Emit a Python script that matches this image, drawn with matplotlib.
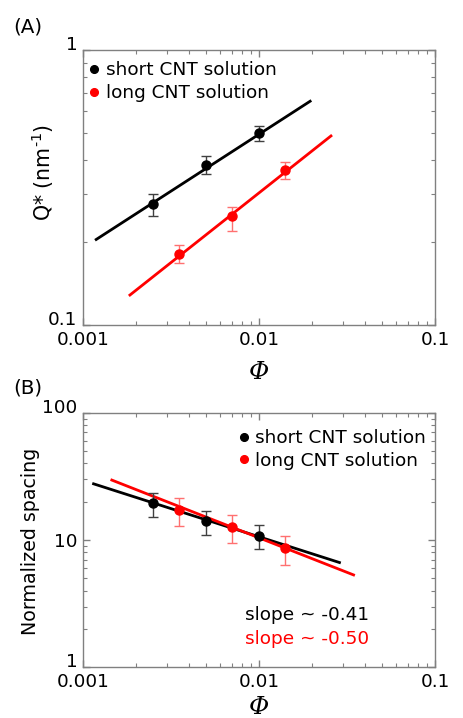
import numpy as np
import matplotlib
matplotlib.use("Agg")
import matplotlib.pyplot as plt
from matplotlib.ticker import FixedLocator, FuncFormatter, LogLocator, NullFormatter

# volume fraction
phi_short = [0.0025, 0.005, 0.01]
phi_long = [0.0035, 0.007, 0.014]

# (A) peak position Q* (nm^-1)
q_short = [0.276, 0.384, 0.50]
q_short_lo = [0.249, 0.356, 0.469]
q_short_hi = [0.299, 0.411, 0.529]
q_long = [0.182, 0.249, 0.368]
q_long_lo = [0.168, 0.221, 0.339]
q_long_hi = [0.195, 0.270, 0.392]

# (B) normalized spacing
s_short = [19.4, 14.0, 10.8]
s_short_lo = [15.1, 11.0, 8.5]
s_short_hi = [23.3, 17.0, 13.1]
s_long = [17.2, 12.7, 8.6]
s_long_lo = [12.9, 9.5, 6.4]
s_long_hi = [21.5, 15.8, 10.7]

# power law fits: value at phi=0.01, exponent, phi range
fitA_short = (0.495, 0.414, 0.00119, 0.0195)
fitA_long = (0.303, 0.507, 0.00185, 0.0256)
fitB_short = (10.6, -0.443, 0.00115, 0.0286)
fitB_long = (10.4, -0.543, 0.00146, 0.0344)

plt.rcParams["font.family"] = "DejaVu Sans"
FS = 13.3
ERR_BLACK = "#404040"
ERR_RED = "#ff7070"


def fit_line(ax, fit, color):
    amp, expo, x0, x1 = fit
    xs = np.array([x0, x1])
    ax.plot(xs, amp * (xs / 0.01) ** expo, color=color, lw=2.0, zorder=2)


def points(ax, x, y, lo, hi, color, ecolor, label):
    y = np.array(y)
    err = [y - np.array(lo), np.array(hi) - y]
    ax.errorbar(x, y, yerr=err, fmt="none", ecolor=ecolor, elinewidth=1.0,
                capsize=3.5, capthick=1.0, zorder=3)
    ax.plot(x, y, "o", color=color, ms=6.5, zorder=4, label=label)


def style(ax, ylim, yticks, xpad):
    ax.set_xscale("log")
    ax.set_yscale("log")
    ax.set_xlim(0.001, 0.1)
    ax.set_ylim(*ylim)
    for s in ax.spines.values():
        s.set_color("#808080")
        s.set_linewidth(1.0)
    ax.xaxis.set_major_locator(FixedLocator([0.001, 0.01, 0.1]))
    ax.xaxis.set_major_formatter(FuncFormatter(lambda v, p: f"{v:g}"))
    ax.yaxis.set_major_locator(FixedLocator(yticks))
    ax.yaxis.set_major_formatter(FuncFormatter(lambda v, p: f"{v:g}"))
    ax.xaxis.set_minor_locator(LogLocator(base=10, subs=np.arange(2, 10)))
    ax.yaxis.set_minor_locator(LogLocator(base=10, subs=np.arange(2, 10)))
    ax.xaxis.set_minor_formatter(NullFormatter())
    ax.yaxis.set_minor_formatter(NullFormatter())
    ax.tick_params(which="both", direction="in", top=True, right=True,
                   color="#808080", labelsize=FS, pad=4)
    ax.tick_params(which="major", length=5, width=1.0)
    ax.tick_params(which="minor", length=3, width=0.8)
    ax.set_xlabel("Φ", fontsize=FS + 4.5, family="DejaVu Serif", style="italic", labelpad=xpad)


fig = plt.figure(figsize=(4.63, 7.18), dpi=100)
axA = fig.add_axes([0.179, 0.547, 0.761, 0.383])
axB = fig.add_axes([0.179, 0.0706, 0.761, 0.3546])

# (A)
fit_line(axA, fitA_short, "black")
fit_line(axA, fitA_long, "red")
points(axA, phi_short, q_short, q_short_lo, q_short_hi, "black", ERR_BLACK, "short CNT solution")
points(axA, phi_long, q_long, q_long_lo, q_long_hi, "red", ERR_RED, "long CNT solution")
style(axA, (0.1, 1), [0.1, 1], 8.5)
axA.set_ylabel("Q* (nm$^{\\text{-}1}$)", fontsize=FS + 1.5)
axA.yaxis.set_label_coords(-0.077, 0.555)
axA.legend(loc="upper left", bbox_to_anchor=(-0.03, 1.02), frameon=False, fontsize=FS,
           handlelength=0.6, handletextpad=0.3, labelspacing=0.25, markerscale=0.85)

# (B)
fit_line(axB, fitB_short, "black")
fit_line(axB, fitB_long, "red")
points(axB, phi_short, s_short, s_short_lo, s_short_hi, "black", ERR_BLACK, "short CNT solution")
points(axB, phi_long, s_long, s_long_lo, s_long_hi, "red", ERR_RED, "long CNT solution")
style(axB, (1, 100), [1, 10, 100], 3.5)
axB.set_ylabel("Normalized spacing", fontsize=FS + 0.4)
axB.yaxis.set_label_coords(-0.122, 0.496)
axB.legend(loc="upper right", bbox_to_anchor=(1.02, 1.0), frameon=False, fontsize=FS,
           handlelength=0.6, handletextpad=0.3, labelspacing=0.25, markerscale=0.85)
axB.text(0.46, 0.205, "slope ~ -0.41", transform=axB.transAxes, fontsize=FS,
         color="black", va="center")
axB.text(0.46, 0.11, "slope ~ -0.50", transform=axB.transAxes, fontsize=FS,
         color="red", va="center")

fig.text(0.028, 0.963, "(A)", fontsize=FS + 1, va="center")
fig.text(0.028, 0.46, "(B)", fontsize=FS + 1, va="center")

# end labels of the y axis sit on their tick, the middle one is centred
fig.canvas.draw()
for ax in (axA, axB):
    labels = ax.get_yticklabels()
    for i, lab in enumerate(labels):
        if i == 0 or i == len(labels) - 1:
            lab.set_va("baseline")

fig.savefig("out.png", dpi=100)
